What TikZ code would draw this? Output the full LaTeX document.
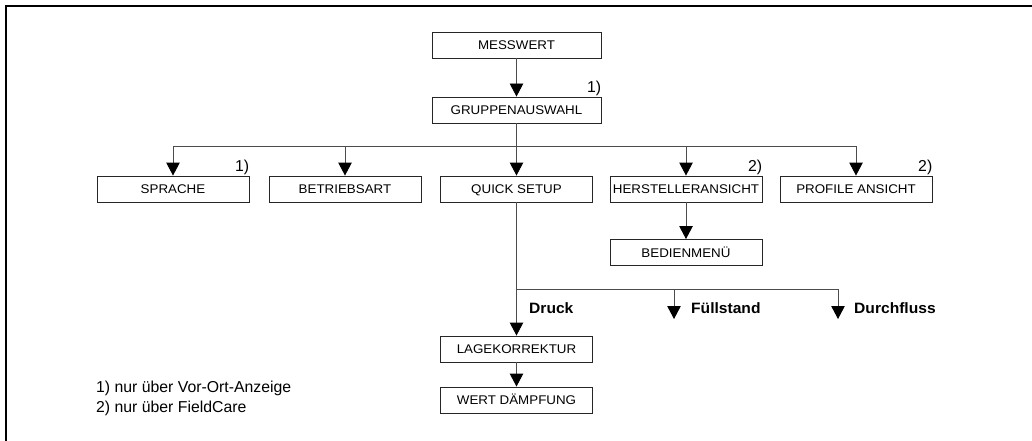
\documentclass[tikz,border=0pt]{standalone}
\usepackage{fontspec}
\setmainfont{Liberation Sans}
\newfontfamily\boxf[FakeStretch=1.06]{Liberation Sans}
\newfontfamily\lblf[FakeStretch=1.04]{Liberation Sans}
\usetikzlibrary{arrows.meta}
\begin{document}
\begin{tikzpicture}[x=1pt,y=-1pt,
  box/.style={draw=black!85, line width=0.9pt, inner sep=0pt,
    minimum height=26pt, text height=9pt, text depth=0pt,
    font=\boxf\fontsize{12.6}{14}\selectfont},
  rowbox/.style={box, minimum width=152pt},
  conn/.style={draw=black!70, line width=0.9pt},
  arr/.style={conn, -{Triangle[length=13pt,width=13.5pt,color=black]}},
  lbl/.style={anchor=base west, inner sep=0pt, font=\lblf\bfseries\fontsize{15}{18}\selectfont},
  note/.style={anchor=base west, inner sep=0pt, font=\fontsize{15.8}{18}\selectfont},
  fnmark/.style={anchor=base east, inner sep=0pt, font=\fontsize{15.8}{18}\selectfont}]
\useasboundingbox (0,0) rectangle (1032,441);
% frame
\draw[line width=1.4pt] (6,445) -- (6,6) -- (1040,6);

% nodes
\node[box, minimum width=169pt] (mw) at (516.5,45) {MESSWERT};
\node[box, minimum width=169pt] (ga) at (516.5,110) {GRUPPENAUSWAHL};
\node[rowbox] (sp) at (173,189) {SPRACHE};
\node[rowbox] (ba) at (345,189) {BETRIEBSART};
\node[rowbox] (qs) at (516.5,189) {QUICK SETUP};
\node[rowbox] (hs) at (686,189) {HERSTELLERANSICHT};
\node[rowbox] (pa) at (856,189) {PROFILE ANSICHT};
\node[rowbox] (bm) at (686,252.5) {BEDIENMENÜ};
\node[rowbox] (lk) at (516.5,349) {LAGEKORREKTUR};
\node[rowbox] (wd) at (516.5,400) {WERT DÄMPFUNG};

% markers
\node[fnmark] (m1) at ([yshift=4pt]ga.north east) {1)};
\node[fnmark] (m2) at ([yshift=4pt]sp.north east) {1)};
\node[fnmark] (m3) at ([yshift=4pt]hs.north east) {2)};
\node[fnmark] (m4) at ([yshift=4pt]pa.north east) {2)};

% connectors level 1
\draw[arr] (mw.south) -- (ga.north);
\coordinate (j1) at (516.5,146);
\draw[conn] (sp.north |- j1) -- (pa.north |- j1);
\draw[arr] (ga.south) -- (qs.north);
\draw[arr] (sp.north |- j1) -- (sp.north);
\draw[arr] (ba.north |- j1) -- (ba.north);
\draw[arr] (hs.north |- j1) -- (hs.north);
\draw[arr] (pa.north |- j1) -- (pa.north);
\draw[arr] (hs.south) -- (bm.north);

% quick setup branches
\coordinate (j2) at (516.5,289);
\coordinate (f1) at (674,289);
\coordinate (f2) at (838,289);
\coordinate (f1e) at (674,319);
\coordinate (f2e) at (838,319);
\draw[arr] (qs.south) -- (lk.north);
\draw[conn] (j2) -- (f2);
\draw[arr] (f1) -- (f1e);
\draw[arr] (f2) -- (f2e);
\draw[arr] (lk.south) -- (wd.north);

% branch labels
\node[lbl] (druck) at (529,313) {Druck};
\node[lbl] (fuell) at (691,313) {Füllstand};
\node[lbl] (durch) at (854,313) {Durchfluss};

% footnotes
\node[note] (n1) at (96,392) {1) nur über Vor-Ort-Anzeige};
\node[note] (n2) at (96,412) {2) nur über FieldCare};
\end{tikzpicture}
\end{document}
